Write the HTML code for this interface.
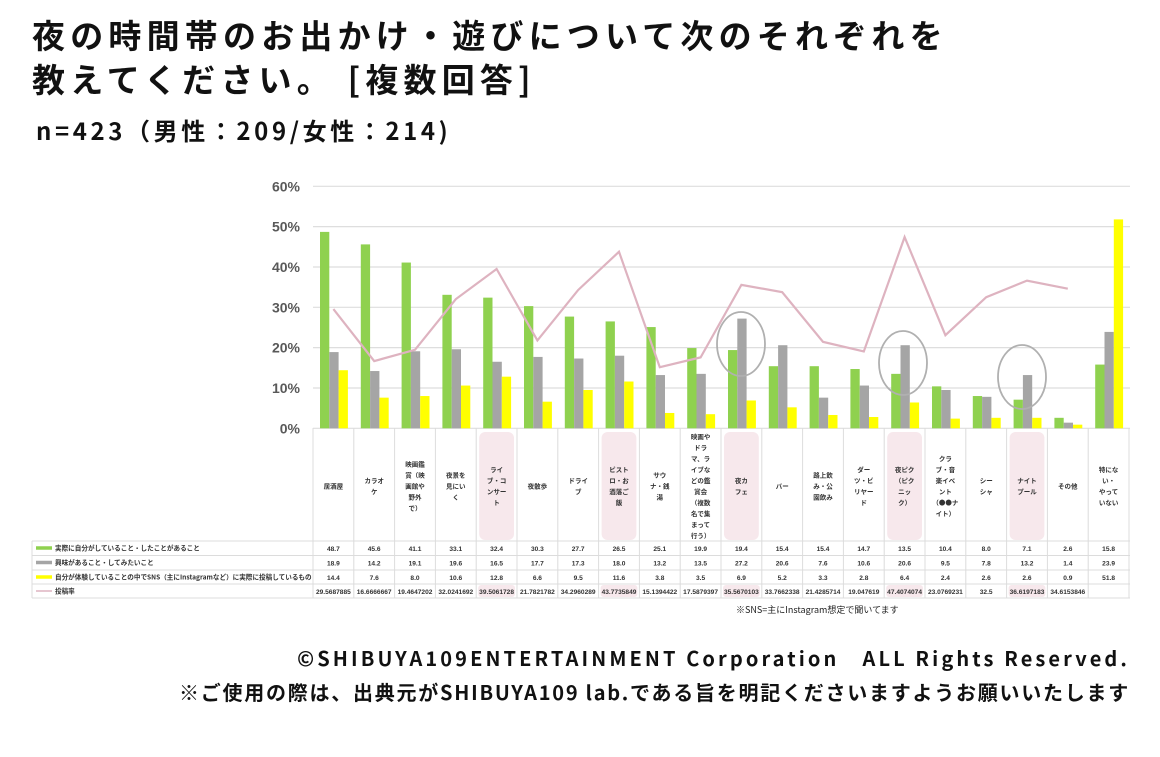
<!DOCTYPE html>
<html><head><meta charset="utf-8">
<style>
html,body{margin:0;padding:0;background:#fff;}
body{width:1160px;height:757px;position:relative;overflow:hidden;font-family:"Liberation Sans","Noto Sans CJK JP",sans-serif;}
.t{position:absolute;left:32px;font-family:"Noto Sans CJK JP",sans-serif;font-weight:bold;color:#111;white-space:nowrap;}
.f{position:absolute;right:30px;font-family:"Noto Sans CJK JP",sans-serif;font-weight:bold;color:#111;white-space:nowrap;font-size:20px;}
svg{position:absolute;left:0;top:0;}
</style></head><body>
<div class="t" style="top:12px;font-size:33px;line-height:44px;letter-spacing:5.2px;">夜の時間帯のお出かけ・遊びについて次のそれぞれを<br>教えてください。 [複数回答]</div>
<div class="t" style="top:114px;left:36px;font-size:24px;line-height:32px;letter-spacing:3.6px;">n=423（男性：209/女性：214)</div>
<div class="f" style="top:643px;letter-spacing:3.1px;">©SHIBUYA109ENTERTAINMENT Corporation　ALL Rights Reserved.</div>
<div class="f" style="top:677px;letter-spacing:1.75px;">※ご使用の際は、出典元がSHIBUYA109 lab.である旨を明記くださいますようお願いいたします</div>
<svg id="s" width="1160" height="757" xmlns="http://www.w3.org/2000/svg"></svg>
<script>
var G=[48.7,45.6,41.1,33.1,32.4,30.3,27.7,26.5,25.1,19.9,19.4,15.4,15.4,14.7,13.5,10.4,8.0,7.1,2.6,15.8];
var R=[18.9,14.2,19.1,19.6,16.5,17.7,17.3,18.0,13.2,13.5,27.2,20.6,7.6,10.6,20.6,9.5,7.8,13.2,1.4,23.9];
var Y=[14.4,7.6,8.0,10.6,12.8,6.6,9.5,11.6,3.8,3.5,6.9,5.2,3.3,2.8,6.4,2.4,2.6,2.6,0.9,51.8];
var L=[29.5687885,16.6666667,19.4647202,32.0241692,39.5061728,21.7821782,34.2960289,43.7735849,15.1394422,17.5879397,35.5670103,33.7662338,21.4285714,19.047619,47.4074074,23.0769231,32.5,36.6197183,34.6153846,null];
var H=[["居酒屋"],["カラオ","ケ"],["映画鑑","賞（映","画館や","野外","で）"],["夜景を","見にい","く"],["ライ","ブ・コ","ンサー","ト"],["夜散歩"],["ドライ","ブ"],["ビスト","ロ・お","酒落ご","飯"],["サウ","ナ・銭","湯"],["映画や","ドラ","マ、ラ","イブな","どの鑑","賞会","（複数","名で集","まって","行う）"],["夜カ","フェ"],["バー"],["路上飲","み・公","園飲み"],["ダー","ツ・ビ","リヤー","ド"],["夜ピク","（ピク","ニッ","ク）"],["クラ","ブ・音","楽イベ","ント","（●●ナ","イト）"],["シー","シャ"],["ナイト","プール"],["その他"],["特にな","い・","やって","いない"]];
var HL=[4,7,10,14,17];
var x0=313,cw=40.8,y0=428.3,u=4.033;
var o='';
function yy(v){return y0-v*u;}
HL.forEach(function(i){var x=x0+i*cw;o+='<rect x="'+(x+3)+'" y="432" width="'+(cw-6)+'" height="108" rx="6" fill="#f7e8ec"/>';o+='<rect x="'+(x+2)+'" y="585" width="'+(cw-4)+'" height="12" rx="3" fill="#f7e8ec"/>';});
for(var k=0;k<=6;k++){var y=yy(k*10);o+='<line x1="313" x2="1130" y1="'+y+'" y2="'+y+'" stroke="#dedede" stroke-width="1.2"/>';o+='<text x="300" y="'+(y+5)+'" text-anchor="end" font-size="14" font-weight="bold" fill="#595959" font-family="Liberation Sans,sans-serif">'+(k*10)+'%</text>';}
for(var i=0;i<20;i++){var x=x0+i*cw+7,w=9.3;
o+='<rect x="'+x+'" y="'+yy(G[i])+'" width="'+w+'" height="'+(G[i]*u)+'" fill="#8fd14f"/>';
o+='<rect x="'+(x+w)+'" y="'+yy(R[i])+'" width="'+w+'" height="'+(R[i]*u)+'" fill="#a5a5a5"/>';
o+='<rect x="'+(x+2*w)+'" y="'+yy(Y[i])+'" width="'+w+'" height="'+(Y[i]*u)+'" fill="#ffff00"/>';}
var p=[];for(var i=0;i<19;i++)p.push((x0+i*cw+cw/2)+','+yy(L[i]));
o+='<polyline points="'+p.join(' ')+'" fill="none" stroke="#deb3c0" stroke-width="2.2"/>';
[[741,344],[903,363],[1022,377]].forEach(function(c){o+='<ellipse cx="'+c[0]+'" cy="'+c[1]+'" rx="24" ry="32" fill="none" stroke="#b0b0b0" stroke-width="1.8"/>';});
for(var i=0;i<=20;i++){var x=x0+i*cw;o+='<line x1="'+x+'" x2="'+x+'" y1="428" y2="598" stroke="#dcdcdc" stroke-width="1"/>';}
o+='<line x1="32" x2="32" y1="541" y2="598" stroke="#dcdcdc"/>';
[541,555.5,570,584,598].forEach(function(y){o+='<line x1="32" x2="1130" y1="'+y+'" y2="'+y+'" stroke="#dcdcdc"/>';});
var ff='font-family="Noto Sans CJK JP,sans-serif"';
for(var i=0;i<20;i++){var h=H[i],n=h.length,cx=x0+i*cw+cw/2,st=486-(n-1)*11/2;
for(var j=0;j<n;j++)o+='<text x="'+cx+'" y="'+(st+j*11+2.5)+'" text-anchor="middle" font-size="6.5" font-weight="bold" fill="#333" '+ff+'>'+h[j]+'</text>';}
var rows=[G,R,Y,L],cols=['#8fd14f','#a5a5a5','#ffff00','#deb3c0'],rl=[541,555.5,570,584];
var lab=['実際に自分がしていること・したことがあること','興味があること・してみたいこと','自分が体験していることの中でSNS（主にInstagramなど）に実際に投稿しているもの','投稿率'];
for(var r=0;r<4;r++){var yc=rl[r]+7.5;
o+='<line x1="36" x2="52" y1="'+(yc-0.5)+'" y2="'+(yc-0.5)+'" stroke="'+cols[r]+'" stroke-width="'+(r==3?1.5:3.5)+'"/>';
o+='<text x="55" y="'+(yc+2)+'" font-size="6.6" font-weight="bold" fill="#333" '+ff+'>'+lab[r]+'</text>';
for(var i=0;i<20;i++){var v=rows[r][i];if(v===null)continue;var s=r<3?v.toFixed(1):String(v);
o+='<text x="'+(x0+i*cw+cw/2)+'" y="'+(yc+2.3)+'" text-anchor="middle" font-size="6.6" font-weight="bold" fill="#333" font-family="Liberation Sans,sans-serif">'+s+'</text>';}}
o+='<text x="736" y="613" font-size="9" fill="#222" '+ff+'>※SNS=主にInstagram想定で聞いてます</text>';
document.getElementById('s').innerHTML=o;
</script>
</body></html>
